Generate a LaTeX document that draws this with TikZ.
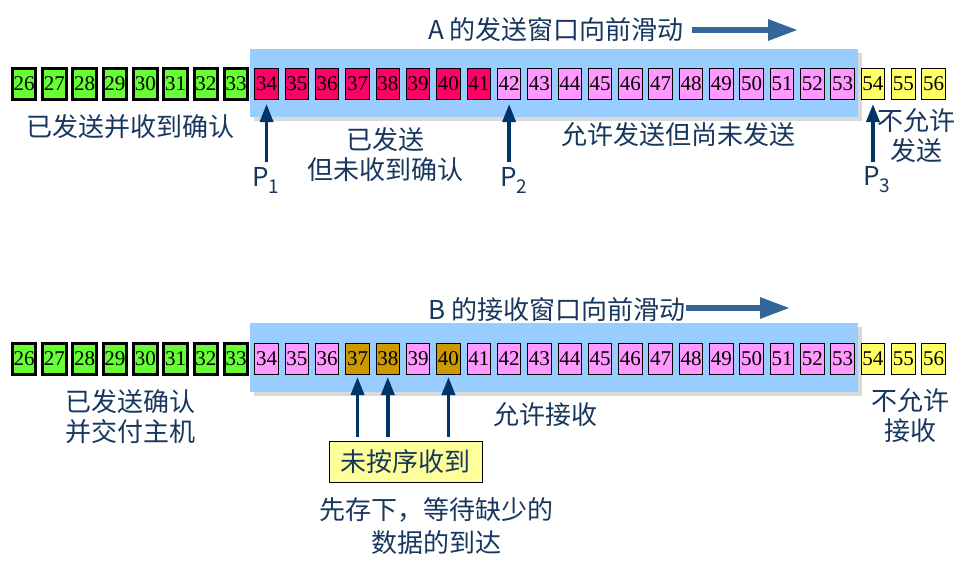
\documentclass[tikz,border=0pt]{standalone}
\usepackage{fontspec}
\setmainfont{Liberation Serif}
\newfontfamily\cjk{Noto Sans CJK SC}
\usetikzlibrary{arrows.meta}
\definecolor{txt}{HTML}{17375E}
\definecolor{navy}{HTML}{003366}
\definecolor{steel}{HTML}{336699}
\definecolor{winblue}{HTML}{99CCFF}
\definecolor{shadowgray}{HTML}{D9D9D9}
\definecolor{cgreen}{HTML}{66FF33}
\definecolor{cred}{HTML}{FF0066}
\definecolor{cpink}{HTML}{FF99FF}
\definecolor{cyellow}{HTML}{FFFF66}
\definecolor{cgold}{HTML}{CC9900}
\definecolor{notefill}{HTML}{FFFF99}
\tikzset{
  cell/.style={draw=black, line width=1pt, minimum width=23.5pt, minimum height=31pt,
    inner sep=0pt, font=\fontsize{21}{21}\selectfont},
  acked/.style={cell, fill=cgreen, line width=3pt},
  sentc/.style={cell, fill=cred},
  okc/.style={cell, fill=cpink},
  noc/.style={cell, fill=cyellow},
  ooo/.style={cell, fill=cgold},
  lbl/.style={text=txt, font=\cjk\fontsize{26}{30}\selectfont, align=center, inner sep=0pt},
  bigarrow/.style={draw=steel, line width=6pt, -{Triangle[length=30pt 0 0,width=20pt 0 0]}},
  ptr/.style={draw=navy, line width=3.5pt, -{Triangle[length=18pt 0 0,width=13pt 0 0]}},
  window/.style={fill=winblue, draw=none},
  shade/.style={fill=shadowgray, draw=none},
}
\newcommand{\Psub}[1]{{\cjk\fontsize{26}{26}\selectfont P}\raisebox{-7pt}{\cjk\fontsize{19}{19}\selectfont #1}}
\begin{document}
\begin{tikzpicture}[x=1pt,y=-1pt]
\useasboundingbox (0,0) rectangle (972,574);
% windows
\fill[shade] (254,53) rectangle (862,121);
\fill[window] (250,49) rectangle (858,117);
\fill[shade] (254,327) rectangle (862,396);
\fill[window] (250,323) rectangle (858,392);
% top row cells
\foreach \n in {26,...,56}{
  \pgfmathsetmacro{\xx}{24+(\n-26)*30.32}
  \ifnum\n<34 \def\sty{acked}\else\ifnum\n<42 \def\sty{sentc}\else\ifnum\n<54 \def\sty{okc}\else\def\sty{noc}\fi\fi\fi
  \node[\sty] (t\n) at (\xx,84) {\n};
}
% bottom row cells
\foreach \n in {26,...,56}{
  \pgfmathsetmacro{\xx}{24+(\n-26)*30.32}
  \ifnum\n<34 \def\sty{acked}\else\ifnum\n<54 \def\sty{okc}\else\def\sty{noc}\fi\fi
  \ifnum\n=37 \def\sty{ooo}\fi
  \ifnum\n=38 \def\sty{ooo}\fi
  \ifnum\n=40 \def\sty{ooo}\fi
  \node[\sty] (r\n) at (\xx,359) {\n};
}
% titles
\node[lbl] (titleA) at (556,30) {A 的发送窗口向前滑动};
\coordinate (aEnd) at (798,30);
\draw[bigarrow] ([xshift=8pt]titleA.east) -- (aEnd);
\node[lbl] (titleB) at (557,310) {B 的接收窗口向前滑动};
\coordinate (bEnd) at (790,308);
\draw[bigarrow] (titleB.east |- bEnd) -- (bEnd);
% top labels
\node[lbl] (la1) at (130,127) {已发送并收到确认};
\node[lbl] (la2) at (385,155) {已发送\\但未收到确认};
\node[lbl] (la3) at (678,135) {允许发送但尚未发送};
\node[lbl] (la4) at (916,136) {不允许\\发送};
\node[text=txt, inner sep=0pt] (p1) at (266,180) {\Psub{1}};
\node[text=txt, inner sep=0pt] (p2) at (514,180) {\Psub{2}};
\node[text=txt, inner sep=0pt] (p3) at (877,180) {\Psub{3}};
\draw[ptr] ([yshift=5pt]p1.north -| t34) -- ([yshift=-4pt]t34.south);
\draw[ptr] ([yshift=5pt]p2.north -| t42) -- ([yshift=-4pt]t42.south);
\draw[ptr] ([yshift=5pt]p3.north -| t54) -- ([yshift=-4pt]t54.south);
% bottom labels
\node[lbl] (lb1) at (130,417) {已发送确认\\并交付主机};
\node[lbl] (lb2) at (545,415) {允许接收};
\node[lbl] (lb3) at (910,416) {不允许\\接收};
\node[lbl, draw=black, line width=1pt, fill=notefill, minimum width=153pt, minimum height=41pt] (note) at (405.5,461.5) {未按序收到};
\node[lbl, font=\cjk\fontsize{26}{33}\selectfont] (lb4) at (436,526) {先存下，等待缺少的\\数据的到达};
\draw[ptr] ([yshift=4pt]note.north -| r37) -- ([yshift=-2pt]r37.south);
\draw[ptr] ([yshift=4pt]note.north -| r38) -- ([yshift=-2pt]r38.south);
\draw[ptr] ([yshift=4pt]note.north -| r40) -- ([yshift=-2pt]r40.south);
\end{tikzpicture}
\end{document}
